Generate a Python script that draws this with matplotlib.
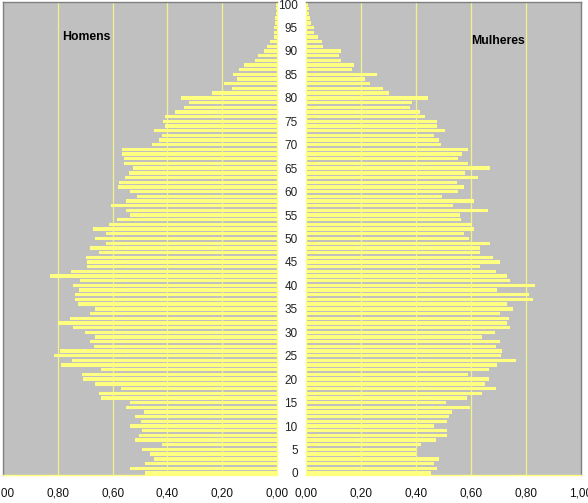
import numpy as np
import matplotlib
matplotlib.use('Agg')
import matplotlib.pyplot as plt

plt.rcParams.update({
    'font.family': ['Liberation Sans', 'DejaVu Sans'],
    'font.size'  : 8.5,
})

BG     = '#C0C0C0'
BAR    = '#FFFF80'
GRID   = '#F2F28C'
BORDER = '#808080'

# population share (%) by single year of age, 0..100
ages = list(range(101))

homens = [
    0.480, 0.536, 0.482, 0.450, 0.464, 0.494, 0.420, 0.518, 0.504, 0.494,
    0.536, 0.496, 0.518, 0.484, 0.552, 0.536, 0.642, 0.648, 0.570, 0.665,
    0.707, 0.713, 0.641, 0.789, 0.750, 0.813, 0.793, 0.669, 0.684, 0.665,
    0.700, 0.743, 0.798, 0.757, 0.684, 0.665, 0.725, 0.737, 0.737, 0.723,
    0.743, 0.720, 0.830, 0.753, 0.693, 0.693, 0.696, 0.650, 0.683, 0.624,
    0.665, 0.624, 0.672, 0.614, 0.584, 0.536, 0.550, 0.605, 0.550, 0.510,
    0.535, 0.580, 0.578, 0.554, 0.540, 0.524, 0.560, 0.557, 0.564, 0.566,
    0.455, 0.430, 0.420, 0.450, 0.410, 0.415, 0.410, 0.373, 0.340, 0.320,
    0.350, 0.237, 0.166, 0.195, 0.145, 0.160, 0.140, 0.120, 0.080, 0.070,
    0.048, 0.036, 0.024, 0.012, 0.010, 0.010, 0.008, 0.006, 0.005, 0.003,
    0.002,
]

mulheres = [
    0.453, 0.478, 0.467, 0.483, 0.399, 0.399, 0.419, 0.474, 0.513, 0.513,
    0.465, 0.513, 0.521, 0.530, 0.596, 0.510, 0.584, 0.641, 0.692, 0.650,
    0.666, 0.590, 0.666, 0.695, 0.762, 0.708, 0.713, 0.690, 0.704, 0.641,
    0.689, 0.740, 0.732, 0.738, 0.707, 0.752, 0.730, 0.826, 0.812, 0.696,
    0.832, 0.740, 0.730, 0.692, 0.632, 0.707, 0.680, 0.632, 0.632, 0.668,
    0.594, 0.576, 0.611, 0.602, 0.563, 0.560, 0.660, 0.533, 0.610, 0.495,
    0.554, 0.576, 0.548, 0.624, 0.578, 0.668, 0.588, 0.554, 0.566, 0.588,
    0.491, 0.483, 0.467, 0.504, 0.476, 0.478, 0.432, 0.413, 0.378, 0.384,
    0.444, 0.300, 0.281, 0.231, 0.213, 0.257, 0.166, 0.174, 0.129, 0.121,
    0.126, 0.063, 0.057, 0.045, 0.030, 0.030, 0.018, 0.015, 0.012, 0.010,
    0.008,
]

xticks      = [0.0, 0.2, 0.4, 0.6, 0.8, 1.0]
xticklabels = ['0,00', '0,20', '0,40', '0,60', '0,80', '1,00']
age_ticks   = list(range(0, 101, 5))

W, H = 588, 503
fig = plt.figure(figsize=(W / 100, H / 100), dpi=100)
fig.patch.set_facecolor('white')

ax_l = fig.add_axes([3 / W, 28 / H, 274 / W, 473 / H])
ax_r = fig.add_axes([306 / W, 28 / H, 275 / W, 473 / H])

for ax, vals in [(ax_l, homens), (ax_r, mulheres)]:
    ax.set_facecolor(BG)
    for g in [0.2, 0.4, 0.6, 0.8]:
        ax.axvline(g, color=GRID, lw=0.9, zorder=1)
    ax.barh(ages, vals, height=0.72, color=BAR, edgecolor='none', zorder=2)
    ax.set_ylim(-0.45, 100.45)
    ax.set_xticks(xticks)
    ax.set_xticklabels(xticklabels)
    ax.tick_params(axis='x', length=0, pad=9, colors='#111111')

ax_l.set_xlim(1.0, 0.0)
ax_r.set_xlim(0.0, 1.0)

# spines: outer borders gray, inner/bottom yellow
ax_l.spines['left'].set_color(BORDER)
ax_l.spines['top'].set_color(BORDER)
ax_l.spines['right'].set_color(BAR)
ax_l.spines['bottom'].set_color(BAR)
ax_r.spines['right'].set_color(BORDER)
ax_r.spines['top'].set_color(BORDER)
ax_r.spines['left'].set_color(BAR)
ax_r.spines['bottom'].set_color(BAR)
for ax in (ax_l, ax_r):
    for s in ax.spines.values():
        s.set_linewidth(1.0)

ax_l.set_yticks([])
ax_r.set_yticks(age_ticks)
ax_r.set_yticklabels([str(a) for a in age_ticks])
ax_r.tick_params(axis='y', length=0, pad=6, colors='#222222')

ax_l.text(0.305, 0.927, 'Homens', transform=ax_l.transAxes,
          fontsize=8.8, fontweight='bold', ha='center', va='center')
ax_r.text(0.70, 0.917, 'Mulheres', transform=ax_r.transAxes,
          fontsize=8.8, fontweight='bold', ha='center', va='center')

fig.savefig('out.png', dpi=100)
